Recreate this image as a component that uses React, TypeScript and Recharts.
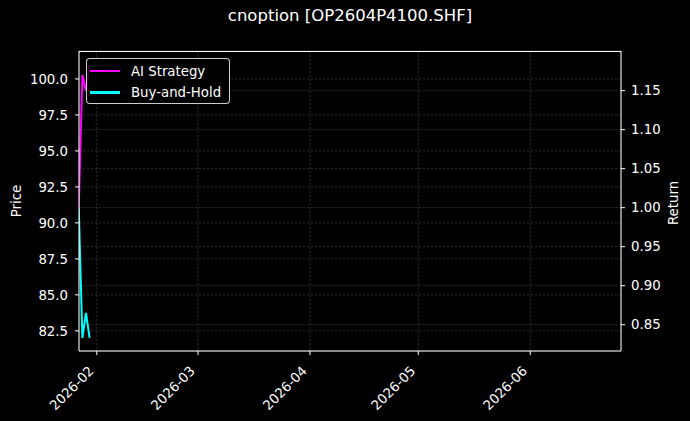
import React from "react";
import { CartesianGrid, Line, LineChart, XAxis, YAxis } from "recharts";

const DATES = ["2026-01-27", "2026-01-28", "2026-01-29", "2026-01-30"];
const AI_STRATEGY = [1.0, 1.17, 1.15, 1.183];
const BUY_AND_HOLD = [1.0, 0.833, 0.865, 0.833];

const X_TICK_DATES = ["2026-02-01", "2026-03-01", "2026-04-01", "2026-05-01", "2026-06-01"];
const X_TICK_LABELS = ["2026-02", "2026-03", "2026-04", "2026-05", "2026-06"];
const X_RANGE = ["2026-01-27T01:40:00Z", "2026-06-26T02:30:00Z"];

const PRICE_TICKS = [82.5, 85, 87.5, 90, 92.5, 95, 97.5, 100];
const PRICE_RANGE = [81.1, 101.94];
const RETURN_TICKS = [0.85, 0.9, 0.95, 1.0, 1.05, 1.1, 1.15];
const RETURN_RANGE = [0.8163, 1.2008];

const SERIES = [
  { key: "ai", name: "AI Strategy", color: "#ff00ff", values: AI_STRATEGY },
  { key: "bh", name: "Buy-and-Hold", color: "#00ffff", values: BUY_AND_HOLD },
];

const FONT = "'DejaVu Sans', sans-serif";
const W = 690;
const H = 421;

// days since 2026-01-01 (UTC)
const toDay = (s: string) =>
  (Date.parse(s.length === 10 ? s + "T00:00:00Z" : s) - Date.parse("2026-01-01T00:00:00Z")) / 86400000;

const data = DATES.map((d, i) => ({
  day: toDay(d),
  ai: AI_STRATEGY[i],
  bh: BUY_AND_HOLD[i],
}));

const xTicks = X_TICK_DATES.map(toDay);

function DateTick(props: any) {
  const { x, y, payload } = props;
  const idx = xTicks.indexOf(payload.value);
  return (
    <g transform={`translate(${x - 5.5},${y + 13.5})`}>
      <text
        transform="rotate(-45)"
        textAnchor="end"
        dy="0.35em"
        fill="#fff"
        fontSize={13.3}
        fontFamily={FONT}
      >
        {X_TICK_LABELS[idx]}
      </text>
    </g>
  );
}

export default function App() {
  const tickStyle = { fill: "#fff", fontSize: 13.3, fontFamily: FONT };
  return (
    <div style={{ position: "absolute", left: 0, top: 0, width: W, height: H, background: "#000" }}>
      <LineChart width={W} height={H} data={data} margin={{ top: 51, right: 0, bottom: 0, left: 0 }}>
        <CartesianGrid yAxisId="left" stroke="#454545" strokeWidth={0.6} strokeDasharray="2.5 1.5" />
        <CartesianGrid
          yAxisId="right"
          vertical={false}
          stroke="#454545"
          strokeWidth={0.6}
          strokeDasharray="2.5 1.5"
        />
        <XAxis
          dataKey="day"
          type="number"
          domain={X_RANGE.map(toDay)}
          allowDataOverflow
          ticks={xTicks}
          interval={0}
          height={70}
          tickSize={4}
          tickMargin={0}
          tick={<DateTick />}
          stroke="#fff"
          tickLine={{ stroke: "#fff" }}
          axisLine={{ stroke: "#fff" }}
        />
        <YAxis
          yAxisId="left"
          orientation="left"
          type="number"
          width={79}
          domain={PRICE_RANGE}
          allowDataOverflow
          ticks={PRICE_TICKS}
          interval={0}
          tickFormatter={(v: number) => v.toFixed(1)}
          tickSize={4}
          tickMargin={7}
          tick={tickStyle}
          tickLine={{ stroke: "#fff" }}
          axisLine={{ stroke: "#fff" }}
        />
        <YAxis
          yAxisId="right"
          orientation="right"
          type="number"
          width={69}
          domain={RETURN_RANGE}
          allowDataOverflow
          ticks={RETURN_TICKS}
          interval={0}
          tickFormatter={(v: number) => v.toFixed(2)}
          tickSize={4}
          tickMargin={6}
          tick={tickStyle}
          tickLine={{ stroke: "#fff" }}
          axisLine={{ stroke: "#fff" }}
        />
        {SERIES.map((s) => (
          <Line
            key={s.key}
            yAxisId="right"
            dataKey={s.key}
            name={s.name}
            stroke={s.color}
            strokeWidth={2}
            dot={false}
            type="linear"
            isAnimationActive={false}
          />
        ))}
      </LineChart>

      {/* top spine */}
      <div
        style={{
          position: "absolute",
          left: 79,
          top: 51,
          width: 542,
          height: 0,
          borderTop: "1px solid #fff",
          pointerEvents: "none",
        }}
      />

      {/* title */}
      <div
        style={{
          position: "absolute",
          left: 0,
          width: 700,
          top: 6,
          textAlign: "center",
          color: "#fff",
          fontFamily: FONT,
          fontSize: 16.5,
          whiteSpace: "nowrap",
        }}
      >
        cnoption [OP2604P4100.SHF]
      </div>

      {/* axis labels */}
      <div
        style={{
          position: "absolute",
          left: 16,
          top: 201,
          transform: "translate(-50%, -50%) rotate(-90deg)",
          color: "#fff",
          fontFamily: FONT,
          fontSize: 13.3,
          whiteSpace: "nowrap",
        }}
      >
        Price
      </div>
      <div
        style={{
          position: "absolute",
          left: 673,
          top: 203,
          transform: "translate(-50%, -50%) rotate(-90deg)",
          color: "#fff",
          fontFamily: FONT,
          fontSize: 13.3,
          whiteSpace: "nowrap",
        }}
      >
        Return
      </div>

      {/* legend */}
      <div
        style={{
          position: "absolute",
          left: 86,
          top: 58,
          width: 144,
          height: 46,
          boxSizing: "border-box",
          border: "1px solid rgba(255,255,255,0.8)",
          borderRadius: 4,
          background: "rgba(0,0,0,0.8)",
          fontFamily: FONT,
          fontSize: 13.3,
          color: "#fff",
        }}
      >
        {SERIES.map((s, i) => (
          <div
            key={s.key}
            style={{ position: "absolute", left: 3, top: 2 + i * 21.5, height: 20, display: "flex", alignItems: "center" }}
          >
            <span style={{ display: "inline-block", width: 30, height: 2.5, background: s.color }} />
            <span style={{ marginLeft: 11, whiteSpace: "nowrap" }}>{s.name}</span>
          </div>
        ))}
      </div>
    </div>
  );
}
